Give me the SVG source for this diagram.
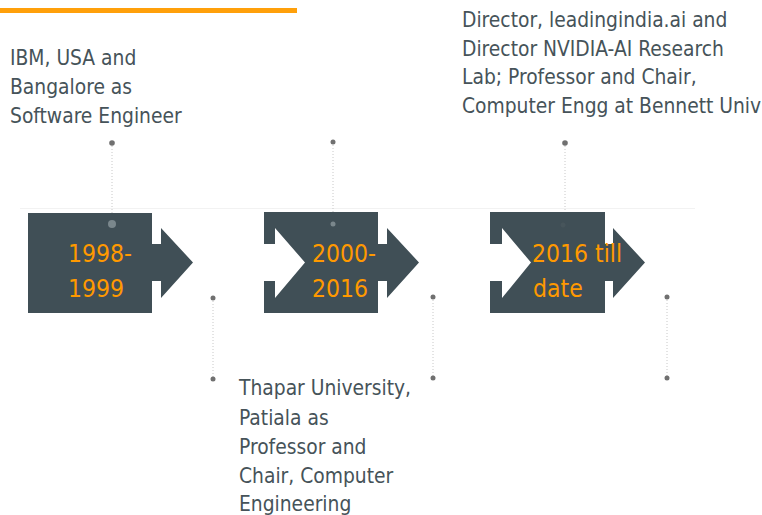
<svg xmlns="http://www.w3.org/2000/svg" width="762" height="515" viewBox="0 0 762 515">
<defs>
<style>
.shape{fill:#404f56}
.yr{font-family:"DejaVu Sans Condensed","DejaVu Sans",sans-serif;font-size:24.5px;fill:#ff9900}
.lbl{font-family:"DejaVu Sans Condensed","DejaVu Sans",sans-serif;font-size:20.8px;fill:#465359}
.dl{stroke:#c8c8c8;stroke-width:1;stroke-dasharray:1 2;fill:none}
.dot{fill:#707070}
.idot{fill:#7a878c}
</style>
</defs>
<rect width="762" height="515" fill="#ffffff"/>
<rect x="0" y="8" width="297" height="5" fill="#ffa00a"/>
<line x1="20" y1="208.5" x2="695" y2="208.5" stroke="#f2f2f2" stroke-width="1"/>

<g id="connectors">
<line class="dl" x1="112" y1="143" x2="112" y2="222"/>
<circle class="dot" cx="112" cy="143" r="2.8"/>
<line class="dl" x1="333" y1="142" x2="333" y2="220"/>
<circle class="dot" cx="333" cy="142" r="2.5"/>
<line class="dl" x1="565" y1="143" x2="565" y2="212"/>
<circle class="dot" cx="565" cy="143" r="2.8"/>
<line class="dl" x1="213" y1="298" x2="213" y2="379"/>
<circle class="dot" cx="213" cy="298" r="2.5"/>
<circle class="dot" cx="213" cy="379" r="2.5"/>
<line class="dl" x1="433" y1="297" x2="433" y2="378"/>
<circle class="dot" cx="433" cy="297" r="2.5"/>
<circle class="dot" cx="433" cy="378" r="2.5"/>
<line class="dl" x1="667" y1="297" x2="667" y2="378"/>
<circle class="dot" cx="667" cy="297" r="2.5"/>
<circle class="dot" cx="667" cy="378" r="2.5"/>
</g>

<g id="step1">
<path class="shape" d="M28,213 H152 V244 H161 V228 L193,262.5 L161,298 V281 H152 V313 H28 Z"/>
<circle class="idot" cx="112" cy="224" r="4"/>
<text class="yr" x="68" y="262">1998-</text>
<text class="yr" x="68" y="297">1999</text>
</g>

<g id="step2">
<path class="shape" d="M264,212 H378 V244 H387 V228 L419,262.5 L387,298 V281 H378 V313 H264 V281 H275 V298 L305,262.5 L275,228 V244 H264 Z"/>
<circle class="idot" cx="333" cy="224" r="2.5"/>
<text class="yr" x="312" y="262">2000-</text>
<text class="yr" x="312" y="297">2016</text>
</g>

<g id="step3">
<path class="shape" d="M490,212 H605 V244 H613 V228 L645,262.5 L613,298 V281 H605 V313 H490 V281 H502 V298 L531,262.5 L502,228 V244 H490 Z"/>
<circle cx="563" cy="225" r="2.5" fill="#47555b"/>
<text class="yr" x="532" y="262">2016 till</text>
<text class="yr" x="533" y="297">date</text>
</g>

<g id="label1">
<text class="lbl" x="10" y="65">IBM, USA and</text>
<text class="lbl" x="10" y="94">Bangalore as</text>
<text class="lbl" x="10" y="123">Software Engineer</text>
</g>

<g id="label2">
<text class="lbl" x="239" y="395">Thapar University,</text>
<text class="lbl" x="239" y="425">Patiala as</text>
<text class="lbl" x="239" y="454">Professor and</text>
<text class="lbl" x="239" y="483">Chair, Computer</text>
<text class="lbl" x="239" y="511">Engineering</text>
</g>

<g id="label3">
<text class="lbl" x="462" y="27">Director, leadingindia.ai and</text>
<text class="lbl" x="462" y="56">Director NVIDIA-AI Research</text>
<text class="lbl" x="462" y="84">Lab; Professor and Chair,</text>
<text class="lbl" x="462" y="113">Computer Engg at Bennett Univ</text>
</g>
</svg>
